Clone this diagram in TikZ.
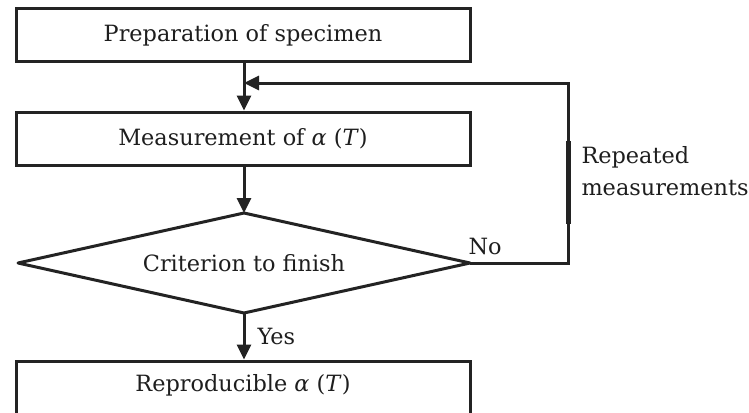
\documentclass[tikz,border=0pt]{standalone}
\usepackage{fontspec}
\setmainfont{DejaVu Serif}
\usetikzlibrary{shapes.geometric,arrows.meta}
\begin{document}
\begin{tikzpicture}[x=1pt,y=-1pt,
  line width=3pt, draw={rgb,255:red,35;green,35;blue,35},
  every node/.style={font=\fontsize{22.4}{32}\selectfont, text={rgb,255:red,30;green,30;blue,30}},
  box/.style={draw, rectangle, minimum width=454pt, minimum height=53pt, inner sep=0pt},
  arr/.style={-{Triangle[length=15pt,width=14pt]}},
  lbl/.style={inner sep=0pt, anchor=base west}]
\useasboundingbox (0,0) rectangle (749,412);
\clip (0,0) rectangle (749,412);
\node[box] (b1) at (243,35.5) {Preparation of specimen};
\node[box] (b2) at (243,138.5) {Measurement of \textit{α} (\textit{T})};
\coordinate (dl) at (18,263);
\coordinate (dt) at (244,213);
\coordinate (dr) at (470,263);
\coordinate (db) at (244,313);
\draw[line join=round] (dl) -- (dt) -- (dr) -- (db) -- cycle;
\node (d) at (244,263) {Criterion to finish};
\node[box, minimum height=60pt] (b3) at (243,391) {};
\node[inner sep=0pt] (b3t) at (243,385) {Reproducible \textit{α} (\textit{T})};
\coordinate (c1) at (568,263);
\coordinate (c2) at (568,83);
\coordinate (c3) at (244,83);
\coordinate (t1) at (568,141);
\coordinate (t2) at (568,224);
\draw[arr] (b1.south -| c3) -- (b2.north -| c3);
\draw[arr] (b2.south -| dt) -- (dt);
\draw[arr] (db) -- (b3.north -| db);
\draw[arr] (dr) -- (c1) -- (c2) -- (c3);
\draw[line width=5pt, line cap=butt] (t1) -- (t2);
\node[lbl] (yes) at (256,344) {Yes};
\node[lbl] (no) at (467,254) {No};
\node[lbl] (rep) at (580,163) {Repeated};
\node[lbl] (meas) at (580,195) {measurements};
\end{tikzpicture}
\end{document}
